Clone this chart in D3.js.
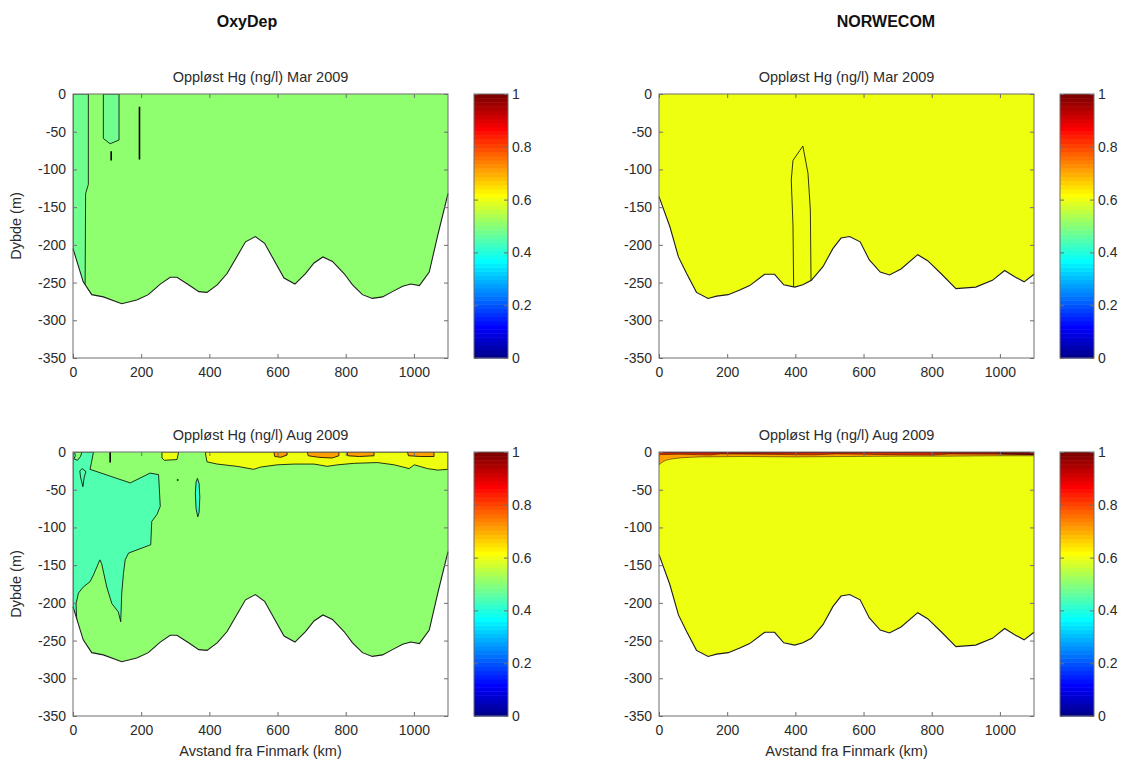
<!DOCTYPE html>
<html>
<head>
<meta charset="utf-8">
<script src="https://cdn.jsdelivr.net/npm/d3@7"></script>
<style>
body { margin: 0; background: #fff; }
text { font-family: "Liberation Sans", Arial, sans-serif; }
</style>
</head>
<body>
<svg id="chart" width="1126" height="763"></svg>
<script>
// Ticks
const xTicks = [0, 200, 400, 600, 800, 1000];
const yTicks = [-350, -300, -250, -200, -150, -100, -50, 0];
const cbTicks = [0, 0.2, 0.4, 0.6, 0.8, 1];

// Sea floor (km, m) for each model grid
const oxyBottom = [[0,-205],[30,-249],[55,-266],[89,-269],[143,-278],[187,-273],[221,-266],[256,-252],[285,-243],[305,-243],[339,-253],[369,-262],[393,-263],[423,-253],[452,-238],[506,-196],[535,-189],[562,-198],[619,-244],[651,-252],[682,-238],[707,-224],[733,-216],[761,-222],[795,-238],[820,-253],[849,-266],[878,-271],[908,-269],[937,-262],[967,-255],[991,-252],[1016,-254],[1045,-236],[1070,-187],[1100,-132]];
const norBottom = [[0,-136],[32,-176],[57,-216],[81,-238],[110,-263],[144,-271],[169,-268],[203,-266],[237,-260],[266,-254],[310,-239],[339,-239],[366,-253],[398,-256],[422,-253],[447,-247],[481,-229],[510,-205],[534,-191],[559,-189],[590,-196],[617,-220],[649,-236],[676,-240],[710,-232],[759,-213],[788,-221],[827,-238],[871,-258],[929,-256],[978,-247],[1014,-234],[1042,-242],[1071,-249],[1100,-239]];

// OxyDep Mar 2009 (base 0.51)
const oxyMarStripA = [[0,0],[45,0],[45,-120],[37,-132],[35,-300],[0,-300]];
const oxyMarStripB = [[89,0],[135,0],[135,-61],[109,-66],[89,-59]];
const oxyMarLines = [[[112,-76],[112,-88]], [[195,-17],[195,-87]]];

// NORWECOM Mar 2009 (base 0.60)
const norMarLoop = [[396,-300],[393,-174],[388,-114],[393,-88],[422,-69],[437,-105],[444,-154],[447,-300]];

// OxyDep Aug 2009 (base 0.51)
const oxyAugTeal = [[0,0],[60,0],[55,-12],[50,-23],[109,-32],[168,-41],[226,-28],[251,-30],[256,-72],[246,-83],[231,-92],[228,-123],[163,-134],[153,-143],[148,-161],[143,-187],[140,-225],[133,-212],[114,-201],[99,-179],[84,-148],[79,-143],[60,-163],[50,-172],[30,-179],[16,-187],[9,-201],[11,-225],[0,-225]];
const oxyAugCorner = [[4,0],[7,-5],[3,-9],[13,-11],[22,-6],[26,0]];
const oxyAugDrop = [[20,-25],[27,-22],[38,-26],[33,-33],[29,-46],[22,-33]];
const oxyAugLens = [[365,-35],[370,-42],[372,-60],[370,-80],[366,-86],[361,-75],[359,-55],[361,-40]];
const oxyAugYellow = [[388,0],[393,-13],[423,-16],[481,-19],[530,-23],[550,-20],[599,-17],[648,-16],[707,-16],[746,-19],[776,-17],[825,-15],[893,-14],[942,-17],[986,-22],[1001,-17],[1040,-22],[1070,-24],[1100,-23],[1100,0]];
const oxyAugYellowSmall = [[261,0],[261,-8],[268,-11],[305,-10],[310,0]];
const oxyAugOrange1 = [[589,0],[592,-6],[610,-7],[628,-4],[628,0]];
const oxyAugOrange2 = [[687,0],[690,-5],[720,-7],[760,-8],[780,-5],[780,0]];
const oxyAugOrange3 = [[804,0],[806,-5],[840,-6],[883,-5],[883,0]];
const oxyAugOrange4 = [[981,0],[984,-5],[1020,-6],[1059,-6],[1059,0]];
const oxyAugLines = [[[109,0],[109,-14]], [[307,-36],[307,-38]]];

// NORWECOM Aug 2009 (base 0.60)
const norAugOrange = [[0,0],[0,-17],[8,-14],[20,-11],[40,-9],[70,-7.5],[120,-6.5],[250,-6],[400,-6.5],[550,-6],[700,-5.5],[850,-5.5],[1000,-5],[1100,-5],[1100,0]];
const norAugRed = [[0,0],[0,-3.5],[60,-3],[150,-4],[180,-2.5],[300,-3],[450,-3.8],[520,-2.5],[650,-3.3],[800,-4],[850,-2.7],[1000,-3],[1100,-3.5],[1100,0]];
const norAugDark = [[0,0],[0,-1.2],[300,-1.5],[600,-1],[900,-1.5],[1100,-1.8],[1100,0]];
const norAugMaroon = [[990,0],[1010,-2.5],[1060,-3],[1100,-3.5],[1100,0]];

// MATLAB jet(64)
function jet64(k) {
  const u = i => (i < 1 || i > 47) ? 0 : i <= 16 ? i / 16 : i <= 31 ? 1 : (48 - i) / 16;
  return d3.rgb(255 * u(k - 24), 255 * u(k - 8), 255 * u(k + 8)).toString();
}
const jetColor = v => jet64(Math.max(1, Math.min(64, Math.floor(v * 64) + 1)));

const panels = [
  { left: 73, top: 94, title: "Oppløst Hg (ng/l) Mar 2009", ylabel: true, xlabel: false,
    bottom: oxyBottom, base: 0.51, sw: 0.8,
    regions: [{ pts: oxyMarStripA, v: 0.48 }, { pts: oxyMarStripB, v: 0.48 }],
    lines: oxyMarLines },
  { left: 659, top: 94, title: "Oppløst Hg (ng/l) Mar 2009", ylabel: false, xlabel: false,
    bottom: norBottom, base: 0.60, sw: 0.8,
    regions: [{ pts: norMarLoop, v: 0.60 }],
    lines: [] },
  { left: 73, top: 452, title: "Oppløst Hg (ng/l) Aug 2009", ylabel: true, xlabel: true,
    bottom: oxyBottom, base: 0.51, sw: 0.8,
    regions: [{ pts: oxyAugTeal, v: 0.45 }, { pts: oxyAugCorner, v: 0.51 }, { pts: oxyAugDrop, v: 0.45 },
              { pts: oxyAugLens, v: 0.42 }, { pts: oxyAugYellow, v: 0.60 }, { pts: oxyAugYellowSmall, v: 0.60 },
              { pts: oxyAugOrange1, v: 0.71 }, { pts: oxyAugOrange2, v: 0.71 },
              { pts: oxyAugOrange3, v: 0.71 }, { pts: oxyAugOrange4, v: 0.71 }],
    lines: oxyAugLines },
  { left: 659, top: 452, title: "Oppløst Hg (ng/l) Aug 2009", ylabel: false, xlabel: true,
    bottom: norBottom, base: 0.60, sw: 0.45,
    regions: [{ pts: norAugOrange, v: 0.71 }, { pts: norAugRed, v: 0.82 },
              { pts: norAugDark, v: 0.94 }, { pts: norAugMaroon, v: 0.99 }],
    lines: [] }
];

const W = 375, H = 264;
const axisColor = "#6e6e6e", textColor = "#2b2b2b";

const svg = d3.select("#chart");

// Column titles
svg.append("text").attr("x", 247).attr("y", 27).attr("text-anchor", "middle")
  .attr("font-size", 16).attr("font-weight", "bold").attr("fill", "#111").text("OxyDep");
svg.append("text").attr("x", 886).attr("y", 27).attr("text-anchor", "middle")
  .attr("font-size", 16).attr("font-weight", "bold").attr("fill", "#111").text("NORWECOM");

panels.forEach((p, i) => {
  const x = d3.scaleLinear().domain([0, 1100]).range([0, W]);
  const y = d3.scaleLinear().domain([-350, 0]).range([H, 0]);
  const g = svg.append("g").attr("transform", `translate(${p.left},${p.top})`);
  const line = d3.line().x(d => x(d[0])).y(d => y(d[1]));

  const water = [[0, 0]].concat(p.bottom, [[1100, 0]]);
  g.append("clipPath").attr("id", "water" + i)
    .append("path").attr("d", line(water) + "Z");

  // base fill
  g.append("path").attr("d", line(water) + "Z").attr("fill", jetColor(p.base));

  const inner = g.append("g").attr("clip-path", `url(#water${i})`);
  inner.selectAll("path.region")
    .data(p.regions)
    .enter().append("path")
    .attr("class", "region")
    .attr("d", d => line(d.pts) + "Z")
    .attr("fill", d => jetColor(d.v))
    .attr("stroke", "#000")
    .attr("stroke-width", p.sw);

  inner.selectAll("path.cline")
    .data(p.lines)
    .enter().append("path")
    .attr("class", "cline")
    .attr("d", d => line(d))
    .attr("fill", "none")
    .attr("stroke", "#000")
    .attr("stroke-width", 1.6);

  // sea floor
  g.append("path").attr("d", line(p.bottom))
    .attr("fill", "none").attr("stroke", "#1e1e1e").attr("stroke-width", 1.1);

  // axes with inward ticks on all sides
  const fmt = d => String(d);
  const styleAxis = sel => {
    sel.select(".domain").remove();
    sel.selectAll(".tick line").attr("stroke", axisColor);
    sel.selectAll(".tick text").attr("fill", textColor).attr("font-size", 14)
      .attr("font-family", "Liberation Sans, Arial, sans-serif");
  };
  g.append("g").attr("transform", `translate(0,${H})`)
    .call(d3.axisBottom(x).tickValues(xTicks).tickSize(-4).tickPadding(9).tickFormat(fmt)).call(styleAxis);
  g.append("g")
    .call(d3.axisTop(x).tickValues(xTicks).tickSize(-4).tickFormat("")).call(styleAxis);
  g.append("g")
    .call(d3.axisLeft(y).tickValues(yTicks).tickSize(-4).tickPadding(7).tickFormat(fmt)).call(styleAxis);
  g.append("g").attr("transform", `translate(${W},0)`)
    .call(d3.axisRight(y).tickValues(yTicks).tickSize(-4).tickFormat("")).call(styleAxis);
  g.append("rect").attr("x", 0).attr("y", 0).attr("width", W).attr("height", H)
    .attr("fill", "none").attr("stroke", axisColor).attr("stroke-width", 1);

  // panel title
  g.append("text").attr("x", W / 2).attr("y", -12).attr("text-anchor", "middle")
    .attr("font-size", 14.5).attr("fill", textColor).text(p.title);

  if (p.ylabel) {
    g.append("text").attr("transform", `translate(${-52},${H / 2}) rotate(-90)`)
      .attr("text-anchor", "middle").attr("font-size", 14.5).attr("fill", textColor).text("Dybde (m)");
  }
  if (p.xlabel) {
    g.append("text").attr("x", W / 2).attr("y", H + 40).attr("text-anchor", "middle")
      .attr("font-size", 14.5).attr("fill", textColor).text("Avstand fra Finmark (km)");
  }

  // colorbar
  const cb = svg.append("g").attr("transform", `translate(${p.left + W + 26},${p.top})`);
  const cw = 34;
  const cy = d3.scaleLinear().domain([0, 1]).range([H, 0]);
  cb.selectAll("rect.band")
    .data(d3.range(1, 65))
    .enter().append("rect")
    .attr("class", "band")
    .attr("x", 0).attr("width", cw)
    .attr("y", k => cy(k / 64))
    .attr("height", k => cy((k - 1) / 64) - cy(k / 64) + 0.5)
    .attr("fill", k => jet64(k));
  const cbAxis = cb.append("g").attr("transform", `translate(${cw},0)`)
    .call(d3.axisRight(cy).tickValues(cbTicks).tickSize(-4).tickPadding(4).tickFormat(d => String(d)));
  cbAxis.call(styleAxis);
  cb.append("g").call(d3.axisLeft(cy).tickValues(cbTicks).tickSize(-4).tickFormat("")).call(styleAxis);
  cb.append("rect").attr("width", cw).attr("height", H)
    .attr("fill", "none").attr("stroke", axisColor);
});
</script>
</body>
</html>
